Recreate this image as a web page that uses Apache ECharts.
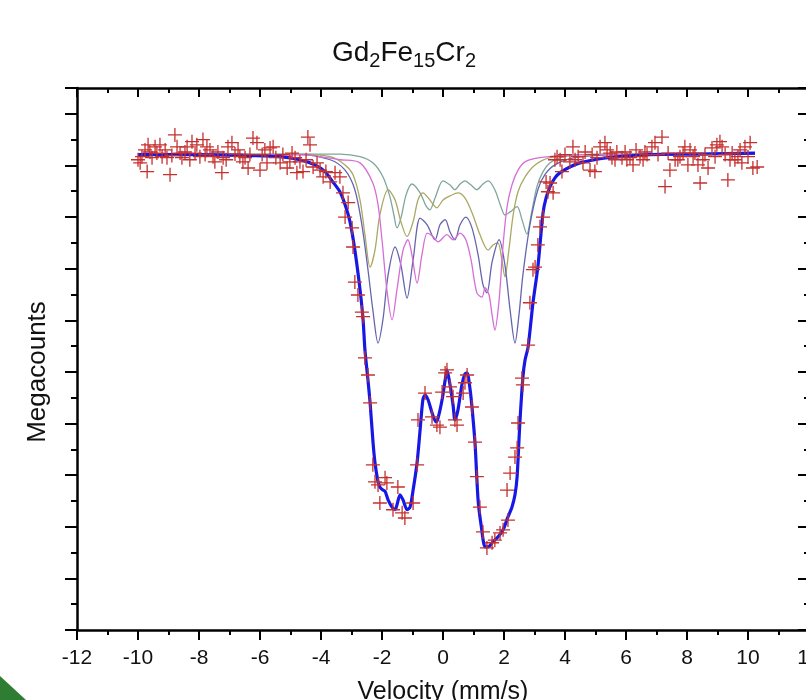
<!DOCTYPE html>
<html><head><meta charset="utf-8">
<script src="https://cdn.jsdelivr.net/npm/echarts@6/dist/echarts.min.js"></script>
<style>html,body{margin:0;padding:0;background:#fff}#c{width:806px;height:700px}</style>
</head><body><div id="c"></div>
<script>
// Measured spectrum (velocity mm/s, counts in arbitrary megacount units)
const dataVel = [-10.00,-9.93,-9.87,-9.77,-9.70,-9.67,-9.61,-9.54,-9.44,-9.38,-9.28,-9.21,-9.11,-9.05,-8.95,-8.89,-8.79,-8.72,-8.62,-8.56,-8.46,-8.39,-8.30,-8.23,-8.13,-8.07,-7.97,-7.87,-7.80,-7.74,-7.64,-7.54,-7.48,-7.38,-7.25,-7.21,-7.11,-7.05,-6.92,-6.82,-6.72,-6.66,-6.56,-6.49,-6.39,-6.33,-6.23,-6.10,-6.00,-5.93,-5.84,-5.77,-5.67,-5.57,-5.48,-5.34,-5.25,-5.11,-5.02,-4.95,-4.85,-4.79,-4.69,-4.59,-4.49,-4.43,-4.36,-4.26,-4.13,-4.03,-3.93,-3.84,-3.70,-3.54,-3.38,-3.28,-3.21,-3.11,-2.98,-2.95,-2.89,-2.79,-2.66,-2.62,-2.56,-2.46,-2.39,-2.30,-2.23,-2.13,-2.07,-1.90,-1.84,-1.64,-1.48,-1.34,-1.25,-0.98,-0.85,-0.82,-0.59,-0.36,-0.20,-0.10,-0.03,0.07,0.13,0.23,0.33,0.39,0.46,0.66,0.72,0.79,0.95,1.05,1.11,1.21,1.31,1.44,1.61,1.70,1.87,1.97,2.10,2.13,2.20,2.36,2.43,2.46,2.59,2.62,2.79,2.85,2.95,3.02,3.11,3.18,3.28,3.38,3.44,3.51,3.61,3.67,3.74,3.84,3.90,4.00,4.16,4.26,4.33,4.43,4.59,4.66,4.82,4.89,4.98,5.05,5.15,5.31,5.38,5.48,5.54,5.64,5.70,5.87,5.97,6.03,6.13,6.23,6.33,6.46,6.56,6.62,6.69,6.85,6.95,7.05,7.18,7.28,7.38,7.44,7.61,7.70,7.77,7.87,7.93,8.03,8.10,8.20,8.26,8.36,8.43,8.52,8.59,8.69,8.82,8.92,8.98,9.08,9.15,9.25,9.34,9.41,9.48,9.57,9.67,9.74,9.80,9.90,10.00,10.07,10.16,10.30];
const dataCounts = [9.11,9.05,9.17,9.30,8.88,9.40,9.26,9.15,9.36,9.24,9.40,9.17,9.30,9.15,8.82,9.19,9.59,9.36,9.24,9.15,9.26,9.36,9.11,9.46,9.24,9.40,9.17,9.50,9.21,9.36,9.30,9.17,9.07,9.26,8.86,9.15,9.11,9.36,9.44,9.22,9.30,9.17,9.07,9.15,8.95,9.21,9.53,9.44,8.91,9.21,9.30,9.05,9.34,9.36,9.15,9.05,9.21,8.95,9.07,9.24,9.15,8.86,9.07,8.88,9.11,9.55,9.40,8.97,9.05,8.91,8.78,8.88,8.68,8.86,8.78,8.47,8.00,8.28,7.79,7.42,6.74,6.49,6.16,6.07,5.27,4.94,4.40,3.20,2.87,2.81,2.46,2.95,2.85,2.33,2.77,2.27,2.17,2.46,3.20,4.07,4.59,4.13,3.97,3.93,4.61,4.98,5.04,4.71,4.52,4.07,3.97,4.59,4.79,4.94,4.32,3.64,2.97,2.38,1.90,1.59,1.69,1.74,1.88,1.94,2.71,2.13,3.04,3.35,3.53,4.01,4.88,4.75,5.52,6.34,6.98,7.03,7.46,7.81,8.00,8.68,8.49,8.66,8.47,9.11,9.17,9.11,8.88,9.21,9.07,9.36,9.11,9.17,9.05,9.26,8.91,9.21,8.88,9.15,9.36,9.44,9.30,9.24,9.15,9.11,9.26,9.15,9.26,9.11,9.15,9.01,9.30,9.17,9.11,9.26,9.21,9.36,9.44,9.21,9.55,8.59,9.24,8.91,9.11,9.11,9.17,9.24,9.36,9.01,9.30,9.17,9.24,9.01,8.66,9.11,9.21,8.95,9.34,9.17,9.40,9.46,9.36,9.21,8.72,9.11,9.24,9.11,9.17,9.30,9.05,9.36,9.17,9.44,8.95,8.97];

// Total fit
const fitVel = [-10.00,-7.97,-6.33,-5.34,-4.69,-4.20,-3.87,-3.61,-3.38,-3.21,-3.05,-2.89,-2.72,-2.62,-2.56,-2.46,-2.39,-2.30,-2.23,-2.13,-2.07,-1.97,-1.90,-1.80,-1.67,-1.57,-1.51,-1.41,-1.31,-1.18,-1.08,-0.98,-0.85,-0.75,-0.66,-0.59,-0.49,-0.36,-0.23,-0.16,-0.03,0.07,0.13,0.23,0.33,0.39,0.49,0.62,0.72,0.79,0.89,0.95,1.05,1.15,1.25,1.38,1.48,1.64,1.80,1.97,2.13,2.26,2.36,2.43,2.52,2.62,2.69,2.79,2.95,3.11,3.28,3.38,3.51,3.67,3.84,4.16,4.49,5.15,5.80,6.79,8.43,10.23];
const fitCounts = [9.21,9.21,9.19,9.17,9.11,9.01,8.88,8.68,8.49,8.24,7.91,7.36,6.59,6.01,5.43,4.84,4.40,3.68,3.24,2.87,2.77,2.71,2.69,2.52,2.38,2.33,2.42,2.62,2.52,2.33,2.38,2.71,3.24,3.88,4.46,4.55,4.46,4.21,4.03,4.11,4.46,4.84,5.04,4.75,4.36,4.07,4.26,4.75,4.96,4.98,4.65,4.32,3.62,2.52,2.03,1.61,1.61,1.71,1.80,1.94,2.19,2.38,2.62,2.97,4.01,4.90,5.23,5.48,6.34,7.03,8.08,8.37,8.59,8.76,8.86,8.97,9.05,9.13,9.17,9.21,9.22,9.24];

// Sub-spectrum A (grey-teal)
const subAVel = [-10.00,-3.38,-2.72,-2.30,-1.97,-1.74,-1.61,-1.51,-1.38,-1.21,-1.02,-0.75,-0.56,-0.43,-0.26,0.00,0.23,0.39,0.56,0.72,0.92,1.11,1.31,1.48,1.70,1.90,2.03,2.20,2.43,2.59,2.75,2.89,3.08,3.28,3.51,3.84,4.49,5.80,10.23];
const subACounts = [9.22,9.22,9.17,9.05,8.78,8.39,8.04,7.79,7.98,8.43,8.64,8.47,8.22,8.14,8.37,8.70,8.62,8.53,8.64,8.70,8.62,8.53,8.64,8.70,8.53,8.20,8.04,8.10,8.20,7.95,7.67,8.04,8.59,8.88,9.05,9.15,9.21,9.22,9.24];
// Sub-spectrum B (olive)
const subBVel = [-10.00,-4.69,-3.70,-3.21,-2.95,-2.72,-2.56,-2.39,-2.23,-2.07,-1.80,-1.57,-1.38,-1.18,-0.98,-0.82,-0.66,-0.43,-0.20,0.00,0.23,0.49,0.72,0.98,1.21,1.48,1.64,1.80,1.93,2.03,2.16,2.30,2.46,2.69,3.02,3.51,4.49,10.23];
const subBCounts = [9.22,9.22,9.17,9.01,8.82,8.33,7.66,7.03,7.36,8.04,8.53,8.33,7.91,7.62,7.91,8.33,8.47,8.33,8.18,8.33,8.41,8.47,8.37,8.04,7.66,7.36,7.46,7.50,7.17,6.84,7.36,8.04,8.49,8.78,9.01,9.15,9.21,9.24];
// Sub-spectrum C (slate blue)
const subCVel = [-10.00,-4.69,-3.70,-3.21,-2.89,-2.66,-2.46,-2.30,-2.13,-1.97,-1.80,-1.57,-1.38,-1.18,-0.98,-0.75,-0.52,-0.26,-0.10,0.07,0.23,0.39,0.56,0.75,0.95,1.15,1.31,1.44,1.61,1.84,2.03,2.20,2.36,2.49,2.62,2.85,3.11,3.34,3.67,4.33,5.80,10.23];
const subCCounts = [9.21,9.21,9.11,8.91,8.53,7.85,6.98,6.20,5.56,6.01,6.88,7.42,7.07,6.43,7.17,7.98,7.85,7.56,7.85,7.95,7.71,7.56,7.85,8.00,7.79,7.27,6.69,6.53,7.13,7.56,7.07,6.20,5.56,6.10,6.88,7.85,8.53,8.82,9.01,9.15,9.21,9.22];
// Sub-spectrum D (magenta)
const subDVel = [-10.00,-4.69,-3.38,-2.72,-2.30,-2.13,-2.00,-1.84,-1.67,-1.51,-1.31,-1.15,-1.02,-0.85,-0.69,-0.52,-0.36,-0.16,0.13,0.33,0.56,0.75,0.92,1.11,1.28,1.38,1.51,1.61,1.70,1.84,1.97,2.10,2.26,2.46,2.69,3.18,4.49,10.23];
const subDCounts = [9.21,9.21,9.11,9.05,8.66,8.24,7.56,6.59,6.01,6.59,7.36,7.56,7.27,6.72,7.27,7.69,7.64,7.52,7.66,7.56,7.69,7.56,7.17,6.53,6.45,6.63,6.49,6.10,5.81,6.40,7.46,8.20,8.62,8.91,9.07,9.15,9.21,9.22];

const zip = (a, b) => a.map((v, i) => [v, b[i]]);
const FONT = "'Liberation Sans', Arial, sans-serif";
const chart = echarts.init(document.getElementById('c'), null, {renderer: 'canvas'});

const lineAx = {show: true, onZero: false, lineStyle: {color: '#000', width: 2.5}};
const thinLine = (data, color) => ({
  type: 'line', data, showSymbol: false, smooth: 0.3, z: 2,
  lineStyle: {color, width: 1.3}, silent: true
});

chart.setOption({
  animation: false,
  backgroundColor: '#fff',
  title: {
    text: '{m|Gd}{s|2}{m|Fe}{s|15}{m|Cr}{s|2}',
    left: 399, top: 34, textAlign: 'center',
    textStyle: {
      fontWeight: 'normal',
      rich: {
        m: {fontFamily: FONT, fontSize: 28, fontWeight: 'normal', color: '#111', lineHeight: 30, verticalAlign: 'top'},
        s: {fontFamily: FONT, fontSize: 20, fontWeight: 'normal', color: '#111', lineHeight: 30, verticalAlign: 'top', padding: [12, 0, 0, 0]}
      }
    }
  },
  grid: {left: 77, top: 88, width: 732, height: 542, containLabel: false, outerBoundsMode: 'none'},
  xAxis: [{
    type: 'value', min: -12, max: 12, interval: 2, position: 'bottom',
    name: 'Velocity (mm/s)', nameLocation: 'middle', nameGap: 50,
    nameTextStyle: {fontFamily: FONT, fontSize: 25, color: '#111'},
    axisLine: lineAx,
    axisTick: {show: true, inside: false, length: 10, lineStyle: {color: '#000', width: 2}},
    minorTick: {show: true, splitNumber: 2, length: 5, lineStyle: {color: '#000', width: 2}},
    axisLabel: {fontFamily: FONT, fontSize: 21, color: '#111', margin: 18, hideOverlap: false},
    splitLine: {show: false}
  }, {
    type: 'value', min: -12, max: 12, interval: 2, position: 'top',
    axisLine: lineAx,
    axisTick: {show: true, inside: true, length: 9, lineStyle: {color: '#000', width: 2}},
    minorTick: {show: true, splitNumber: 2, length: 5, lineStyle: {color: '#000', width: 2}},
    axisLabel: {show: false}, splitLine: {show: false}
  }],
  yAxis: [{
    type: 'value', min: 0, max: 10.5, interval: 1, position: 'left',
    name: 'Megacounts', nameLocation: 'middle', nameGap: 26, nameRotate: 90,
    nameTextStyle: {fontFamily: FONT, fontSize: 26, color: '#111', padding: [0, 26, 0, 0]},
    axisLine: lineAx,
    axisTick: {show: true, inside: false, length: 12, lineStyle: {color: '#000', width: 2}},
    minorTick: {show: true, splitNumber: 2, length: 6, lineStyle: {color: '#000', width: 2}},
    axisLabel: {show: false}, splitLine: {show: false}
  }, {
    type: 'value', min: 0, max: 10.5, interval: 1, position: 'right',
    axisLine: lineAx,
    axisTick: {show: true, inside: true, length: 11, lineStyle: {color: '#000', width: 2}},
    minorTick: {show: true, splitNumber: 2, length: 5, lineStyle: {color: '#000', width: 2}},
    axisLabel: {show: false}, splitLine: {show: false}
  }],
  series: [
    thinLine(zip(subAVel, subACounts), '#7ea69e'),
    thinLine(zip(subBVel, subBCounts), '#aaa865'),
    thinLine(zip(subCVel, subCCounts), '#6565ad'),
    thinLine(zip(subDVel, subDCounts), '#d66ed6'),
    {
      type: 'line', data: zip(fitVel, fitCounts), showSymbol: false, smooth: 0.25, z: 3,
      lineStyle: {color: '#1818e6', width: 3.2}, silent: true
    },
    {
      type: 'scatter', data: zip(dataVel, dataCounts), z: 4, silent: true,
      symbol: 'path://M1,0L1,2M0,1L2,1', symbolSize: 14,
      itemStyle: {color: 'none', borderColor: '#c4302e', borderWidth: 1.3, opacity: 1}
    }
  ],
  graphic: [{
    type: 'polygon', z: 100,
    shape: {points: [[0, 676], [26, 700], [0, 700]]},
    style: {fill: '#2e7d32'}
  }]
});
</script></body></html>
